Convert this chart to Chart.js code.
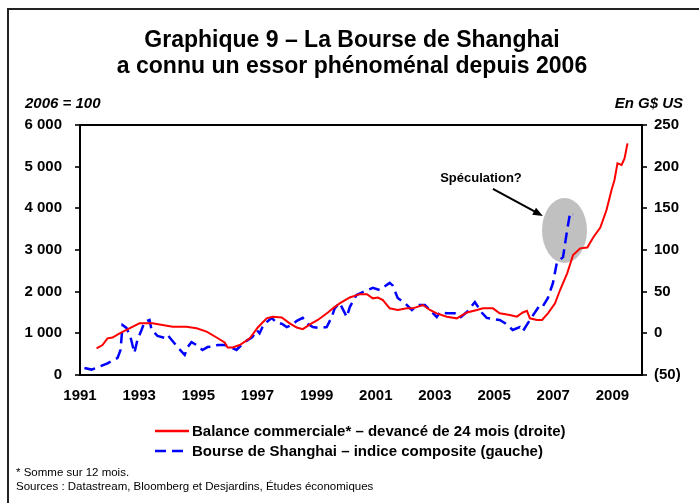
<!DOCTYPE html>
<html>
<head>
<meta charset="utf-8">
<script src="https://cdn.jsdelivr.net/npm/chart.js@4/dist/chart.umd.min.js"></script>
<style>
  body { margin: 0; background: #fff; }
  #wrap { width: 699px; height: 503px; }
</style>
</head>
<body>
<div id="wrap"><canvas id="chart" width="699" height="503"></canvas></div>
<script>
// Bourse de Shanghai - indice composite (axe gauche)
const stockYears = [1991.15, 1991.39, 1991.56, 1991.93, 1992.27, 1992.37, 1992.44, 1992.57, 1992.71, 1992.84,
  1992.94, 1993.08, 1993.18, 1993.35, 1993.42, 1993.52, 1993.62, 1993.86, 1993.96, 1994.10,
  1994.30, 1994.54, 1994.64, 1994.77, 1994.94, 1995.14, 1995.31, 1995.48, 1995.65, 1995.89,
  1996.06, 1996.29, 1996.46, 1996.56, 1996.83, 1996.97, 1997.07, 1997.17, 1997.31, 1997.48,
  1997.65, 1997.82, 1997.99, 1998.16, 1998.33, 1998.53, 1998.70, 1998.87, 1999.10, 1999.34,
  1999.51, 1999.61, 1999.78, 2000.02, 2000.12, 2000.35, 2000.56, 2000.90, 2001.13, 2001.47,
  2001.57, 2001.74, 2001.98, 2002.22, 2002.42, 2002.66, 2002.83, 2003.06, 2003.17, 2003.40,
  2003.67, 2003.84, 2004.08, 2004.35, 2004.58, 2004.75, 2005.19, 2005.36, 2005.63, 2005.87,
  2005.97, 2006.21, 2006.55, 2006.65, 2006.82, 2006.99, 2007.12, 2007.33, 2007.47, 2007.57, 2007.67];
const stockValues = [170, 130, 170, 280, 410, 600, 1200, 1130, 900, 530,
  840, 1080, 1270, 1320, 1080, 1010, 940, 890, 960, 840,
  670, 480, 670, 790, 720, 600, 670, 680, 720, 720,
  680, 600, 720, 790, 910, 1080, 1000, 1150, 1270, 1370,
  1250, 1230, 1150, 1200, 1300, 1370, 1230, 1150, 1130, 1150,
  1390, 1600, 1730, 1390, 1630, 1920, 1990, 2090, 2040, 2210,
  2150, 1850, 1730, 1560, 1680, 1680, 1560, 1390, 1510, 1480,
  1480, 1370, 1510, 1750, 1500, 1370, 1320, 1250, 1080, 1150,
  1050, 1320, 1680, 1650, 1850, 2210, 2690, 2830, 3480, 3890, 3850];

// Balance commerciale, somme sur 12 mois, devancée de 24 mois (axe droit, G$ US)
const tradeYears = [1991.56, 1991.76, 1991.93, 1992.10, 1992.34, 1992.67, 1993.01, 1993.25, 1993.45, 1993.79,
  1994.13, 1994.60, 1994.94, 1995.28, 1995.62, 1995.89, 1995.99, 1996.16, 1996.40, 1996.74,
  1997.01, 1997.31, 1997.51, 1997.82, 1998.09, 1998.33, 1998.53, 1998.83, 1999.04, 1999.38,
  1999.55, 1999.78, 2000.12, 2000.46, 2000.70, 2000.90, 2001.07, 2001.24, 2001.47, 2001.74,
  2002.05, 2002.25, 2002.59, 2002.83, 2003.06, 2003.40, 2003.74, 2004.08, 2004.42, 2004.62,
  2004.96, 2005.19, 2005.53, 2005.77, 2005.97, 2006.11, 2006.21, 2006.45, 2006.62, 2006.82,
  2007.06, 2007.23, 2007.47, 2007.67, 2007.91, 2008.15, 2008.35, 2008.59, 2008.80, 2008.97,
  2009.07, 2009.17, 2009.31, 2009.41, 2009.51];
const tradeValues = [-18, -14, -6, -5, 0, 6, 12, 12, 12, 10,
  8, 8, 6, 2, -5, -11, -17, -17, -14, -6,
  7, 18, 20, 19, 12, 7, 5, 12, 16, 25,
  30, 36, 43, 47, 47, 42, 43, 40, 30, 28,
  30, 30, 34, 28, 24, 20, 18, 25, 28, 30,
  30, 24, 22, 20, 25, 27, 18, 16, 16, 24,
  36, 52, 72, 94, 102, 103, 115, 127, 148, 172,
  184, 204, 202, 210, 228];

const yearTicks = [1991, 1993, 1995, 1997, 1999, 2001, 2003, 2005, 2007, 2009];

const FONT = "'Liberation Sans', Arial, sans-serif";

// bulle "Spéculation?" (position en données, rayons en px)
const bubble = { year: 2007.38, value: 3470, rx: 22.5, ry: 32.5 };
const arrowFrom = { year: 2004.96, value: 4465 };
const arrowTo = { year: 2006.65, value: 3815 };

function spaced(v) {
  return String(v).replace(/\B(?=(\d{3})+(?!\d))/g, " ");
}

const decor = {
  id: "decor",
  beforeDatasetsDraw(chart) {
    const { ctx, scales: { x, y } } = chart;
    ctx.save();
    ctx.fillStyle = "#c0c0c0";
    ctx.beginPath();
    ctx.ellipse(x.getPixelForValue(bubble.year), y.getPixelForValue(bubble.value),
      bubble.rx, bubble.ry, 0, 0, Math.PI * 2);
    ctx.fill();
    ctx.restore();
  },
  afterDraw(chart) {
    const { ctx, chartArea: a, scales: { x, y } } = chart;
    ctx.save();

    // cadre extérieur
    ctx.strokeStyle = "#222";
    ctx.lineWidth = 2;
    ctx.beginPath();
    ctx.moveTo(8, 503);
    ctx.lineTo(8, 9);
    ctx.lineTo(699, 9);
    ctx.stroke();

    // cadre du graphique
    ctx.strokeStyle = "#000";
    ctx.lineWidth = 2;
    ctx.strokeRect(a.left, a.top, a.right - a.left, a.bottom - a.top);

    // titre
    ctx.fillStyle = "#000";
    ctx.textAlign = "center";
    ctx.textBaseline = "middle";
    ctx.font = `bold 23px ${FONT}`;
    ctx.fillText("Graphique 9 – La Bourse de Shanghai", 352, 41);
    ctx.fillText("a connu un essor phénoménal depuis 2006", 352, 67);

    // unités
    ctx.font = `italic bold 15px ${FONT}`;
    ctx.textAlign = "left";
    ctx.fillText("2006 = 100", 25, 104);
    ctx.textAlign = "right";
    ctx.fillText("En G$ US", 683, 104);

    // annotation
    ctx.font = `bold 13px ${FONT}`;
    ctx.textAlign = "center";
    ctx.fillText("Spéculation?", 481, 178);
    const x0 = x.getPixelForValue(arrowFrom.year), y0 = y.getPixelForValue(arrowFrom.value);
    const x1 = x.getPixelForValue(arrowTo.year), y1 = y.getPixelForValue(arrowTo.value);
    const ang = Math.atan2(y1 - y0, x1 - x0);
    ctx.strokeStyle = "#000";
    ctx.lineWidth = 2;
    ctx.beginPath();
    ctx.moveTo(x0, y0);
    ctx.lineTo(x1 - 8 * Math.cos(ang), y1 - 8 * Math.sin(ang));
    ctx.stroke();
    ctx.beginPath();
    ctx.moveTo(x1, y1);
    ctx.lineTo(x1 - 10 * Math.cos(ang) + 4 * Math.sin(ang), y1 - 10 * Math.sin(ang) - 4 * Math.cos(ang));
    ctx.lineTo(x1 - 10 * Math.cos(ang) - 4 * Math.sin(ang), y1 - 10 * Math.sin(ang) + 4 * Math.cos(ang));
    ctx.closePath();
    ctx.fillStyle = "#000";
    ctx.fill();

    // légende
    const items = chart.data.datasets;
    items.forEach((ds, i) => {
      const ly = 431 + i * 20;
      ctx.strokeStyle = ds.borderColor;
      ctx.lineWidth = 2.5;
      ctx.setLineDash(ds.borderDash || []);
      ctx.beginPath();
      ctx.moveTo(155, ly);
      ctx.lineTo(189, ly);
      ctx.stroke();
      ctx.setLineDash([]);
      ctx.fillStyle = "#000";
      ctx.font = `bold 15px ${FONT}`;
      ctx.textAlign = "left";
      ctx.fillText(ds.label, 192, ly + 1);
    });

    // notes
    ctx.font = `11.5px ${FONT}`;
    ctx.fillStyle = "#000";
    ctx.textAlign = "left";
    ctx.fillText("* Somme sur 12 mois.", 16, 473);
    ctx.fillText("Sources : Datastream, Bloomberg et Desjardins, Études économiques", 16, 487);
    ctx.restore();
  }
};

const ctx = document.getElementById("chart");
new Chart(ctx, {
  type: "line",
  data: {
    datasets: [
      {
        label: "Balance commerciale* – devancé de 24 mois (droite)",
        data: tradeYears.map((t, i) => ({ x: t, y: tradeValues[i] })),
        yAxisID: "y1",
        borderColor: "#ff0000",
        borderWidth: 2,
        pointRadius: 0,
        tension: 0
      },
      {
        label: "Bourse de Shanghai – indice composite (gauche)",
        data: stockYears.map((t, i) => ({ x: t, y: stockValues[i] })),
        yAxisID: "y",
        borderColor: "#0000ff",
        borderWidth: 2.5,
        borderDash: [11, 6],
        pointRadius: 0,
        tension: 0
      }
    ]
  },
  options: {
    responsive: false,
    animation: false,
    layout: { padding: { top: 125, left: 0, right: 0, bottom: 0 } },
    plugins: {
      legend: { display: false },
      tooltip: { enabled: false }
    },
    scales: {
      x: {
        type: "linear",
        min: 1991,
        max: 2010,
        afterBuildTicks: axis => { axis.ticks = yearTicks.map(v => ({ value: v })); },
        afterFit: scale => { scale.height = 128; },
        grid: { display: false, drawTicks: false },
        border: { display: false },
        ticks: {
          padding: 12,
          maxRotation: 0,
          autoSkip: false,
          color: "#000",
          font: { family: FONT, size: 15, weight: "bold" },
          callback: v => String(v)
        }
      },
      y: {
        position: "left",
        min: 0,
        max: 6000,
        afterFit: scale => { scale.width = 80; },
        grid: { drawOnChartArea: false, tickLength: 5, color: "#333", lineWidth: 2 },
        border: { display: false },
        ticks: {
          stepSize: 1000,
          padding: 13,
          color: "#000",
          font: { family: FONT, size: 15, weight: "bold" },
          callback: v => spaced(v)
        }
      },
      y1: {
        position: "right",
        min: -50,
        max: 250,
        afterFit: scale => { scale.width = 57; },
        grid: { drawOnChartArea: false, tickLength: 5, color: "#333", lineWidth: 2 },
        border: { display: false },
        ticks: {
          stepSize: 50,
          padding: 7,
          color: "#000",
          font: { family: FONT, size: 15, weight: "bold" },
          callback: v => (v < 0 ? `(${-v})` : String(v))
        }
      }
    }
  },
  plugins: [decor]
});
</script>
</body>
</html>
